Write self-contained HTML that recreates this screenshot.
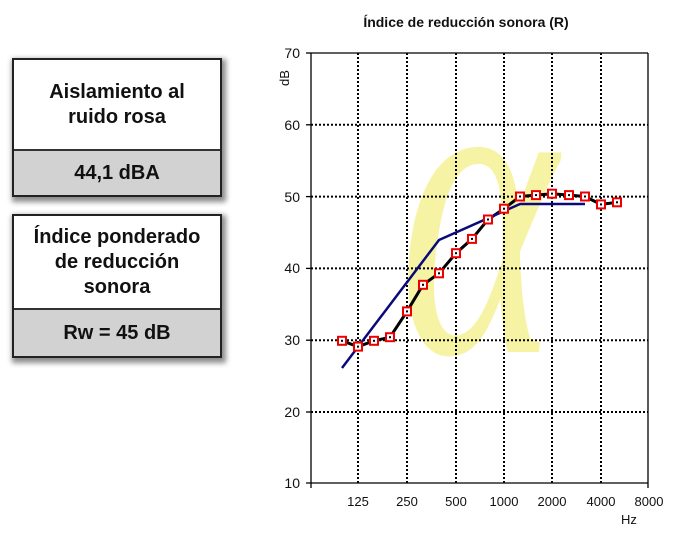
<!DOCTYPE html>
<html><head><meta charset="utf-8"><style>
body{margin:0;width:688px;height:537px;background:#fff;font-family:"Liberation Sans",sans-serif;overflow:hidden;position:relative}
.box{position:absolute;left:12px;width:206px;border:2px solid #222;box-shadow:2px 3px 5px 2px rgba(0,0,0,0.45);background:#fff;font-weight:bold;font-size:20px;text-align:center;color:#111}
.top{display:flex;align-items:center;justify-content:center;border-bottom:2px solid #333;line-height:25px}
.bot{background:#d2d2d2;display:flex;align-items:center;justify-content:center}
</style></head><body>
<div class="box" style="top:58px;height:135px">
 <div class="top" style="height:89px">Aislamiento al<br>ruido rosa</div>
 <div class="bot" style="height:44px">44,1 dBA</div>
</div>
<div class="box" style="top:214px;height:140px">
 <div class="top" style="height:92px">Índice ponderado<br>de reducción<br>sonora</div>
 <div class="bot" style="height:46px">Rw = 45 dB</div>
</div>
<svg width="688" height="537" style="position:absolute;left:0;top:0" font-family="Liberation Sans, sans-serif">
<text x="466" y="27" font-size="14" font-weight="bold" text-anchor="middle" fill="#111">Índice de reducción sonora (R)</text>
<g transform="translate(478,352) scale(1,1.45)"><text x="0" y="0" font-size="300" font-style="italic" font-family="Liberation Serif, serif" fill="#f5ef80" opacity="0.7" text-anchor="middle">α</text></g>
<g stroke="#000" stroke-width="2" stroke-dasharray="2,2">
<line x1="311" y1="124.8" x2="648" y2="124.8"/><line x1="311" y1="196.6" x2="648" y2="196.6"/>
<line x1="311" y1="268.4" x2="648" y2="268.4"/><line x1="311" y1="340.2" x2="648" y2="340.2"/>
<line x1="311" y1="412" x2="648" y2="412"/>
<line x1="358" y1="53" x2="358" y2="483"/><line x1="407" y1="53" x2="407" y2="483"/>
<line x1="456" y1="53" x2="456" y2="483"/><line x1="504" y1="53" x2="504" y2="483"/>
<line x1="552" y1="53" x2="552" y2="483"/><line x1="601" y1="53" x2="601" y2="483"/>
</g>
<g stroke="#000" stroke-width="1.3" fill="none">
<line x1="311" y1="53" x2="648" y2="53"/><line x1="648" y1="53" x2="648" y2="488"/>
<line x1="311" y1="53" x2="311" y2="488"/><line x1="306" y1="483" x2="648" y2="483"/>
<line x1="306" y1="53" x2="311" y2="53"/><line x1="306" y1="124.8" x2="311" y2="124.8"/><line x1="306" y1="196.6" x2="311" y2="196.6"/><line x1="306" y1="268.4" x2="311" y2="268.4"/><line x1="306" y1="340.2" x2="311" y2="340.2"/><line x1="306" y1="412" x2="311" y2="412"/>
</g>
<g font-size="14" fill="#111" text-anchor="end">
<text x="300" y="58">70</text><text x="300" y="130">60</text><text x="300" y="202">50</text><text x="300" y="273">40</text><text x="300" y="345">30</text><text x="300" y="417">20</text><text x="300" y="488">10</text>
</g>
<text x="289" y="86" font-size="13" transform="rotate(-90 289 86)" fill="#111">dB</text>
<g font-size="13" fill="#111" text-anchor="middle">
<text x="358" y="506">125</text><text x="407" y="506">250</text><text x="456" y="506">500</text><text x="504" y="506">1000</text><text x="552" y="506">2000</text><text x="601" y="506">4000</text><text x="649" y="506">8000</text>
<text x="629" y="524">Hz</text>
</g>
<polyline fill="none" stroke="#000" stroke-width="3" points="342,340.8 358,346.6 374,340.8 390,337.2 407,311.4 423,284.8 439,273.3 456,253.2 472,238.9 488,219.5 504,208.7 520,196.5 536,195.1 552,193.7 569,195.1 585,196.5 601,204.4 617,202.3"/>
<polyline fill="none" stroke="#0a0a7a" stroke-width="2.5" points="342,368 439,240 520,204 585,204"/>
<g fill="#fff" stroke="#e00" stroke-width="2">
<rect x="338" y="336.8" width="8" height="8"/><rect x="354" y="342.6" width="8" height="8"/><rect x="370" y="336.8" width="8" height="8"/><rect x="386" y="333.2" width="8" height="8"/><rect x="403" y="307.4" width="8" height="8"/><rect x="419" y="280.8" width="8" height="8"/><rect x="435" y="269.3" width="8" height="8"/><rect x="452" y="249.2" width="8" height="8"/><rect x="468" y="234.9" width="8" height="8"/><rect x="484" y="215.5" width="8" height="8"/><rect x="500" y="204.7" width="8" height="8"/><rect x="516" y="192.5" width="8" height="8"/><rect x="532" y="191.1" width="8" height="8"/><rect x="548" y="189.7" width="8" height="8"/><rect x="565" y="191.1" width="8" height="8"/><rect x="581" y="192.5" width="8" height="8"/><rect x="597" y="200.4" width="8" height="8"/><rect x="613" y="198.3" width="8" height="8"/>
</g>
<g fill="#000">
<rect x="341" y="339.8" width="2" height="2"/><rect x="357" y="345.6" width="2" height="2"/><rect x="373" y="339.8" width="2" height="2"/><rect x="389" y="336.2" width="2" height="2"/><rect x="406" y="310.4" width="2" height="2"/><rect x="422" y="283.8" width="2" height="2"/><rect x="438" y="272.3" width="2" height="2"/><rect x="455" y="252.2" width="2" height="2"/><rect x="471" y="237.9" width="2" height="2"/><rect x="487" y="218.5" width="2" height="2"/><rect x="503" y="207.7" width="2" height="2"/><rect x="519" y="195.5" width="2" height="2"/><rect x="535" y="194.1" width="2" height="2"/><rect x="551" y="192.7" width="2" height="2"/><rect x="568" y="194.1" width="2" height="2"/><rect x="584" y="195.5" width="2" height="2"/><rect x="600" y="203.4" width="2" height="2"/><rect x="616" y="201.3" width="2" height="2"/>
</g>
</svg>
</body></html>
